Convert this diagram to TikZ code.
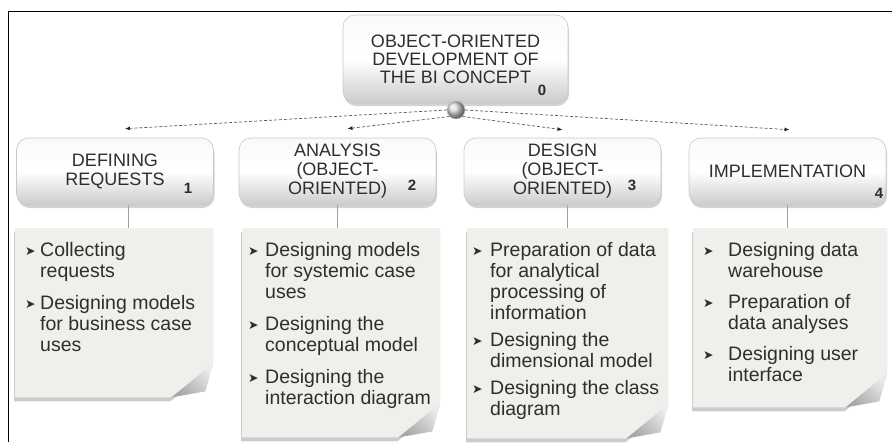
\documentclass[tikz,border=0pt]{standalone}
\usepackage{fontspec}
\setmainfont{Liberation Sans}
\newfontfamily\dejavu{DejaVu Sans}
\usetikzlibrary{shadows,shadings,arrows.meta,calc,backgrounds}
\definecolor{notefill}{HTML}{F0EFEB}
\definecolor{txt}{HTML}{2E2E2E}
\definecolor{boxedge}{HTML}{C8C8C8}
\newlength\bw
\newcommand\bitem[1]{\par\noindent\hangindent=\bw\hangafter=1\makebox[\bw][l]{\raisebox{1pt}{\dejavu\fontsize{12.5}{12.5}\selectfont ➤}}\strut#1\par}
\newcommand\notebox[6]{%
  \parbox[c][#2][t]{#1}{\fontsize{19.5}{21}\selectfont\color{txt}\leftskip=#3\relax\setlength\bw{#4}\setlength\parskip{#5}\vspace*{\dimexpr 14pt-#5\relax}#6}}
\begin{document}
\begin{tikzpicture}[x=1pt,y=-1pt,
  hdr/.style={rounded corners=12pt, draw=boxedge, line width=0.6pt,
    top color=white!96!gray, bottom color=gray!40, middle color=white,
    minimum width=197pt, minimum height=67pt, inner sep=0pt, align=center,
    text=txt, font=\fontsize{18}{19}\selectfont,
    drop shadow={shadow xshift=1pt, shadow yshift=-3pt, opacity=0.35}},
  num/.style={anchor=base, text=txt, font=\fontsize{15}{15}\selectfont\bfseries},
  note/.style={anchor=north west, inner sep=0pt},
  notebg/.style={fill=notefill, drop shadow={shadow xshift=-1pt, shadow yshift=-4pt, opacity=0.4}},
  flap/.style={top color=gray!70, bottom color=gray!15, shading angle=135},
  dasharrow/.style={densely dashed, gray!70!black, line width=0.7pt,
    -{Latex[length=5pt,width=4pt,color=black!85]}},
  link/.style={gray!75, line width=0.8pt}]
\useasboundingbox (0,0) rectangle (892,442);
\draw[line width=1pt] (8,442) -- (8,11) -- (892,11);

% top box
\node[hdr, minimum width=225pt, minimum height=88pt, font=\fontsize{18}{18}\selectfont] (t0) at (455.5,59)
  {OBJECT-ORIENTED\\DEVELOPMENT OF\\THE BI CONCEPT};
\node[num] (l0) at (542,95) {0};
\node[circle, minimum size=18pt, inner sep=0pt, shading=ball, ball color=gray!30, draw=gray!45] (k) at (456,110) {};

% level boxes
\node[hdr] (b1) at (115,171.5) {DEFINING\\REQUESTS};
\node[hdr] (b2) at (337.5,171.5) {ANALYSIS\\(OBJECT-\\ORIENTED)};
\node[hdr] (b3) at (562.5,171.5) {DESIGN\\(OBJECT-\\ORIENTED)};
\node[hdr] (b4) at (787.5,171.5) {IMPLEMENTATION};
\node[num] (l1) at (188,193) {1};
\node[num] (l2) at (412,190) {2};
\node[num] (l3) at (632,190) {3};
\node[num] (l4) at (879,198) {4};

% notes
\node[note] (n1) at (15,228) {\notebox{198pt}{169pt}{10pt}{15pt}{11pt}{%
  \bitem{Collecting\\requests}%
  \bitem{Designing models\\for business case\\uses}}};
\node[note] (n2) at (242,228) {\notebox{198pt}{209pt}{6pt}{17pt}{11pt}{%
  \bitem{Designing models\\for systemic case\\uses}%
  \bitem{Designing the\\conceptual model}%
  \bitem{Designing the\\interaction diagram}}};
\node[note] (n3) at (467,228) {\notebox{201pt}{210pt}{5pt}{18pt}{6pt}{%
  \bitem{Preparation of data\\for analytical\\processing of\\information}%
  \bitem{Designing the\\dimensional model}%
  \bitem{Designing the class\\diagram}}};
\node[note] (n4) at (693,228) {\notebox{194pt}{179pt}{10pt}{25pt}{10pt}{%
  \bitem{Designing data\\warehouse}%
  \bitem{Preparation of\\data analyses}%
  \bitem{Designing user\\interface}}};

\begin{pgfonlayer}{background}
\foreach \n in {n1,n2,n3,n4}{
  \path[notebg] (\n.north west) -- (\n.north east) -- ($(\n.south east)+(0pt,34pt)$)
    -- ($(\n.south east)+(-42pt,0pt)$) -- (\n.south west) -- cycle;
  \path[flap] ($(\n.south east)+(0pt,34pt)$) -- ($(\n.south east)+(-42pt,0pt)$)
    -- ($(\n.south east)+(-8pt,6pt)$) -- cycle;
}
\end{pgfonlayer}

% arrows
\draw[dasharrow] (k.west) -- ($(b1.north)+(10pt,9pt)$);
\draw[dasharrow] (k.south west) -- ($(b2.north)+(10pt,9pt)$);
\draw[dasharrow] (k.south east) -- ($(b3.north)+(0pt,8pt)$);
\draw[dasharrow] (k.east) -- ($(b4.north)+(2pt,8pt)$);

% links
\draw[link] ($(b1.south)+(13pt,0pt)$) -- ($(b1.south |- n1.north)+(13pt,0pt)$);
\draw[link] (b2.south) -- (b2.south |- n2.north);
\draw[link] ($(b3.south)+(5pt,0pt)$) -- ($(b3.south |- n3.north)+(5pt,0pt)$);
\draw[link] (b4.south) -- (b4.south |- n4.north);
\end{tikzpicture}
\end{document}
